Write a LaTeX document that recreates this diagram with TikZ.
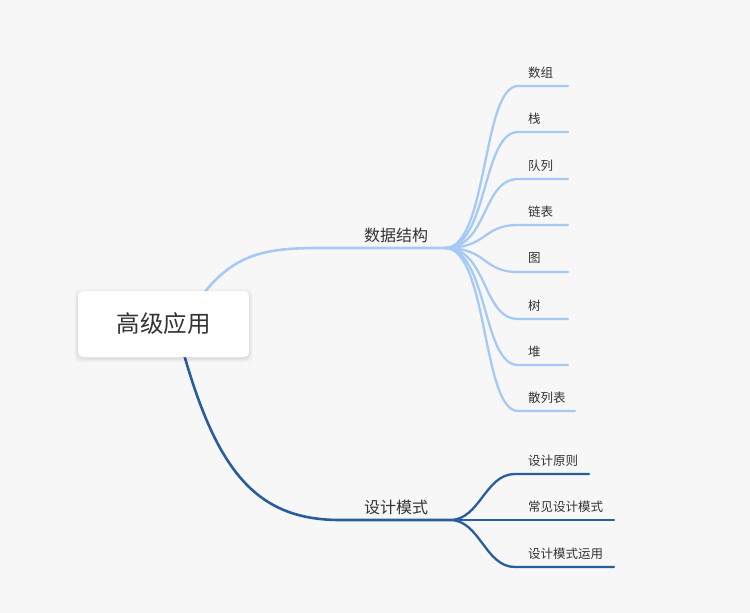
\documentclass[tikz,border=0pt]{standalone}
\usepackage{fontspec}
\newfontfamily\cjk{Noto Sans CJK SC}
\definecolor{bgc}{HTML}{F7F7F7}
\definecolor{lightb}{HTML}{A6CAF5}
\definecolor{darkb}{HTML}{285E9E}
\definecolor{txt}{HTML}{333333}
\begin{document}
\begin{tikzpicture}[x=1pt,y=-1pt,
  leaf/.style={anchor=west,inner sep=0pt,font=\cjk\fontsize{12.5}{14}\selectfont,text=txt},
  sub/.style={inner sep=0pt,font=\cjk\fontsize{16}{18}\selectfont,text=txt},
  lb/.style={draw=lightb,line width=2.6pt,line cap=round},
  db/.style={draw=darkb,line width=2.6pt,line cap=round}]
\fill[bgc] (0,0) rectangle (750,613);
\useasboundingbox (0,0) rectangle (750,613);
% coordinates
\coordinate (rs1) at (195,305);
\coordinate (rs2) at (180,340);
\coordinate (h1) at (445,248);
\coordinate (h2) at (450,520);
% main branches
\draw[lb] (rs1) .. controls (230,255) and (260,248) .. (320,248) -- (h1);
\draw[db] (rs2) .. controls (215,470) and (255,520) .. (340,520) -- (h2);
% sub labels
\node[sub] (ds) at (396,235) {数据结构};
\node[sub] (dp) at (396,507) {设计模式};
% leaves of data structures
\foreach \n/\t/\y/\e in {a/数组/86/568,b/栈/132/568,c/队列/179/568,d/链表/225/568,e/图/272/568,f/树/319/568,g/堆/365/568,h/散列表/411/575}{
  \coordinate (s\n) at (518,\y);
  \coordinate (e\n) at (\e,\y);
  \node[leaf] (l\n) at (528,\y-13.5) {\t};
  \draw[lb,line width=2.3pt] (h1) .. controls (488,248) and (482,\y) .. (s\n) -- (e\n);
}
% leaves of design patterns
\foreach \n/\t/\y/\e in {p/设计原则/474/589,q/常见设计模式/520/614,r/设计模式运用/567/614}{
  \coordinate (s\n) at (515,\y);
  \coordinate (e\n) at (\e,\y);
  \node[leaf] (l\n) at (528,\y-13.5) {\t};
  \draw[db,line width=2.3pt] (h2) .. controls (480,520) and (485,\y) .. (s\n) -- (e\n);
}
% root box with soft shadow
\foreach \o/\op in {4/0.015,3/0.02,2/0.025,1/0.03}{
  \fill[black,opacity=\op,rounded corners=7pt] (78-\o,291-\o+1.5) rectangle (249+\o,357+\o+1.5);
}
\node[fill=white,rounded corners=5pt,minimum width=171pt,minimum height=66pt,inner sep=0pt,
  font=\cjk\fontsize{23.5}{27}\selectfont,text=txt] (root) at (163.5,324) {高级应用};
\end{tikzpicture}
\end{document}
